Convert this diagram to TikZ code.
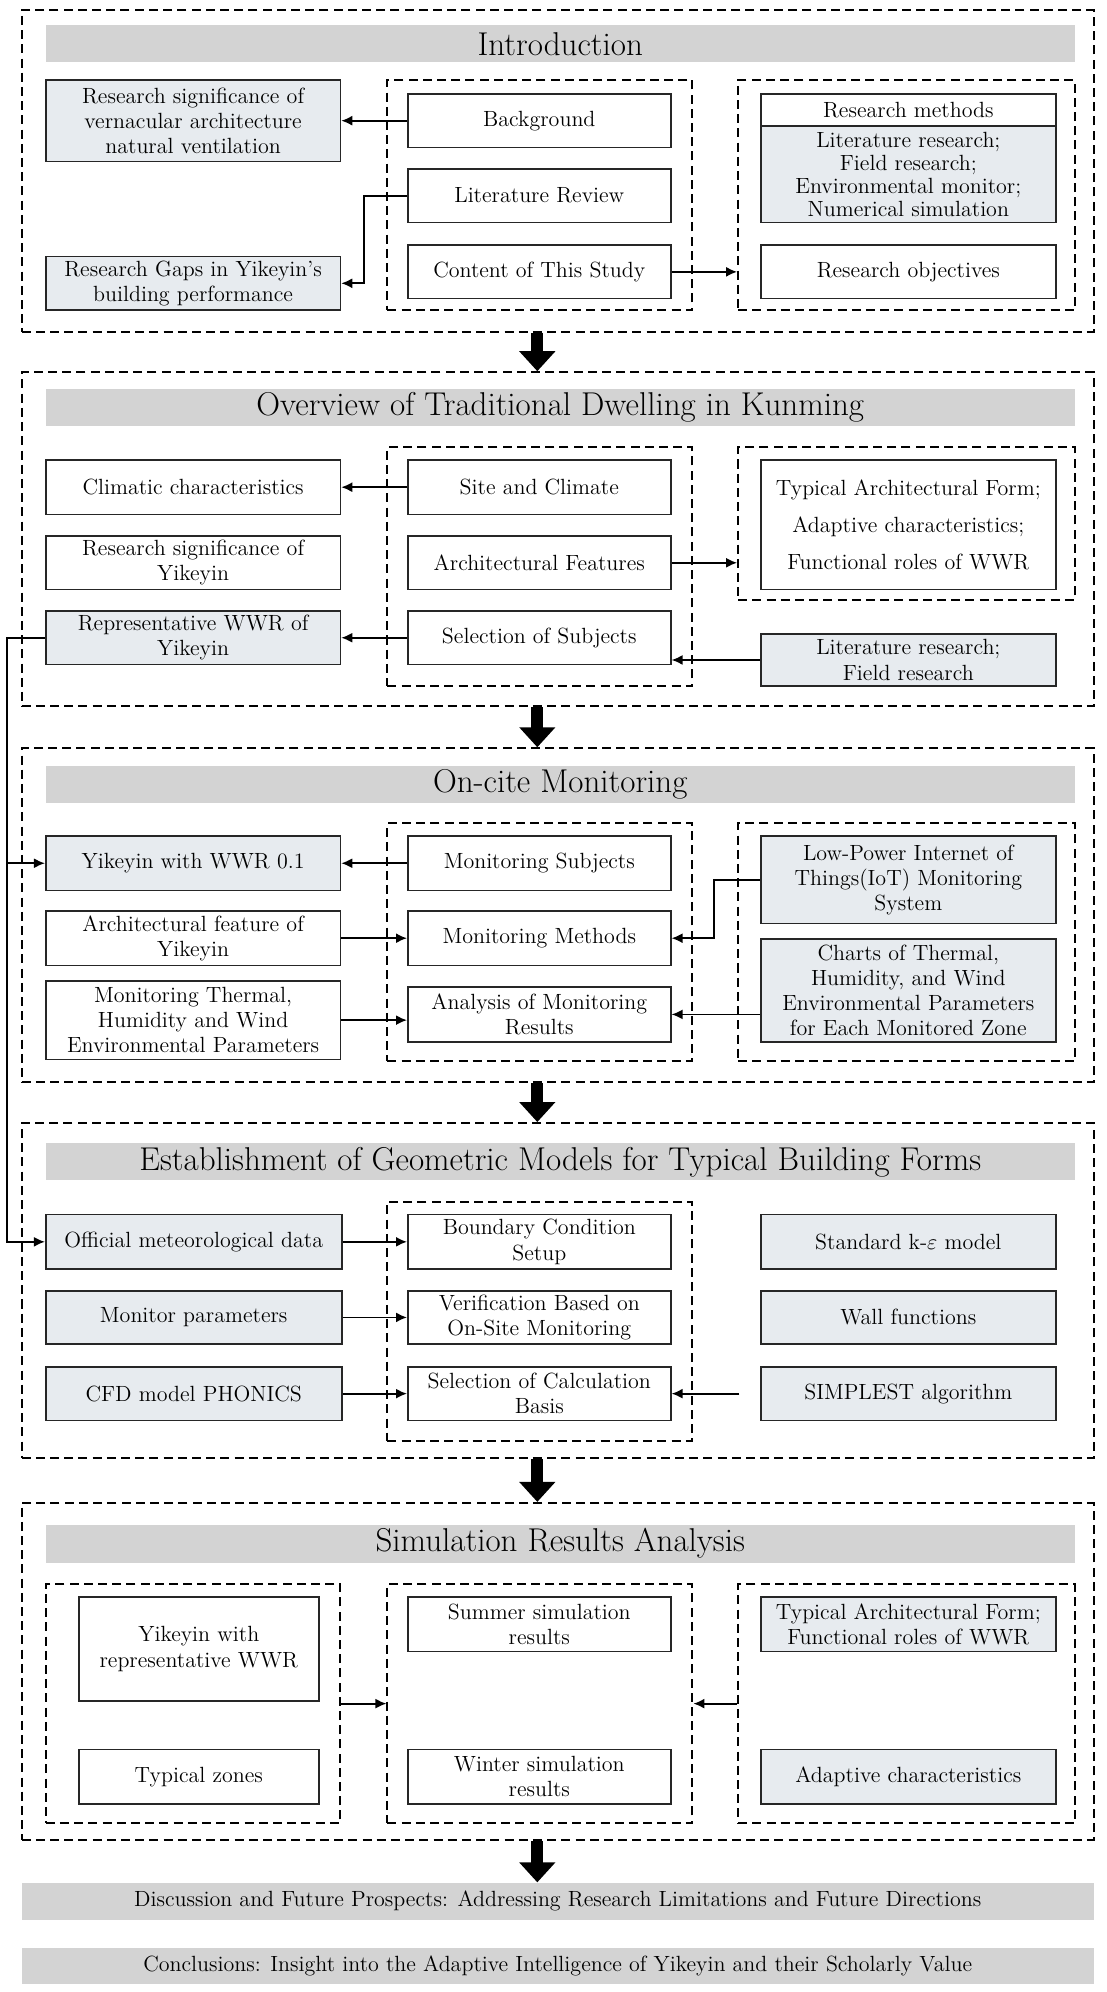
\documentclass[tikz,border=0pt]{standalone}
\usetikzlibrary{arrows.meta,calc}
\definecolor{barg}{RGB}{211,211,211}
\definecolor{boxg}{RGB}{231,235,239}
\tikzset{
  x=0.635pt, y=-0.635pt,
  every node/.style={font=\fontsize{11}{12.6}\selectfont, align=center, inner sep=0pt},
  bx/.style={draw=black!85, line width=0.8pt, fill=white},
  gbx/.style={draw=black!85, line width=0.8pt, fill=boxg},
  tight/.style={font=\fontsize{11}{11.5}\selectfont},
  dbox/.style={draw, line width=1pt, dash pattern=on 4.5pt off 2.6pt},
  bar/.style={fill=barg, font=\fontsize{16.5}{19}\selectfont},
  sbar/.style={fill=barg},
  conn/.style={line width=0.9pt, -{Latex[length=5.5pt,width=5pt]}},
  big/.style={line width=6pt, -{Triangle[length=10pt,width=17.5pt]}},
}
% #1 style, #2 name, (#3,#4) top-left, (#5,#6) bottom-right, #7 text
\newcommand\mybox[7]{%
  \node[#1, minimum width={(#5-#3)*0.635pt}, minimum height={(#6-#4)*0.635pt}]
    (#2) at ({(#3+#5)/2},{(#4+#6)/2}) {#7};}
\begin{document}
\begin{tikzpicture}
\useasboundingbox (0,0) rectangle (871,1568);
\fill[white] (0,0) rectangle (871,1568);

% ---------------- Section 1
\mybox{dbox}{s1}{17}{8}{861}{261}{}
\mybox{bar}{t1}{36}{20}{846}{49}{Introduction}
\mybox{gbx}{rs1}{36}{63}{268}{127}{Research significance of\\vernacular architecture\\natural ventilation}
\mybox{gbx}{rg}{36}{202}{268}{244}{Research Gaps in Yikeyin's\\building performance}
\mybox{dbox}{m1}{305}{63}{545}{244}{}
\mybox{bx}{bg}{321}{74}{528}{116}{Background}
\mybox{bx}{lr}{321}{133}{528}{175}{Literature Review}
\mybox{bx}{ct}{321}{193}{528}{235}{Content of This Study}
\mybox{dbox}{r1}{581}{63}{846}{244}{}
\mybox{bx}{rmh}{599}{74}{831}{99}{Research methods}
\mybox{gbx,tight}{rmb}{599}{99}{831}{175}{Literature research;\\Field research;\\Environmental monitor;\\Numerical simulation}
\mybox{bx}{ro}{599}{193}{831}{235}{Research objectives}

\draw[conn] (bg.west) -- (bg.west -| rs1.east);
\draw[conn] (lr.west) -- ([xshift=11.5pt]rg.east |- lr.west) -- ([xshift=11.5pt]rg.east) -- (rg.east);
\draw[conn] (ct.east) -- (ct.east -| r1.west);

% ---------------- Section 2
\mybox{dbox}{s2}{17}{293}{861}{556}{}
\mybox{bar}{t2}{36}{306}{846}{335}{Overview of Traditional Dwelling in Kunming}
\mybox{bx}{cl}{36}{362}{268}{405}{Climatic characteristics}
\mybox{bx}{ry}{36}{422}{268}{464}{Research significance of\\Yikeyin}
\mybox{gbx}{rep}{36}{481}{268}{523}{Representative WWR of\\Yikeyin}
\mybox{dbox}{m2}{305}{352}{545}{540}{}
\mybox{bx}{sc1}{321}{362}{528}{405}{Site and Climate}
\mybox{bx}{af1}{321}{422}{528}{464}{Architectural Features}
\mybox{bx}{ss}{321}{481}{528}{523}{Selection of Subjects}
\mybox{dbox}{r2}{581}{352}{846}{472}{}
\mybox{bx}{tf}{599}{362}{831}{464}{Typical Architectural Form;\\[6pt]Adaptive characteristics;\\[6pt]Functional roles of WWR}
\mybox{gbx}{lf}{599}{499}{831}{540}{Literature research;\\Field research}

\draw[conn] (sc1.west) -- (sc1.west -| cl.east);
\draw[conn] (af1.east) -- (af1.east -| r2.west);
\draw[conn] (lf.west) -- (lf.west -| ss.east);
\draw[conn] (ss.west) -- (ss.west -| rep.east);

% ---------------- Section 3
\mybox{dbox}{s3}{17}{589}{861}{852}{}
\mybox{bar}{t3}{36}{603}{846}{632}{On-cite Monitoring}
\mybox{gbx}{yk}{36}{658}{268}{701}{Yikeyin with WWR 0.1}
\mybox{bx}{afy}{36}{717}{268}{760}{Architectural feature of\\Yikeyin}
\mybox{bx}{mt}{36}{772}{268}{834}{Monitoring Thermal,\\Humidity and Wind\\Environmental Parameters}
\mybox{dbox}{m3}{305}{648}{545}{835}{}
\mybox{bx}{ms}{321}{658}{528}{701}{Monitoring Subjects}
\mybox{bx}{mm}{321}{717}{528}{760}{Monitoring Methods}
\mybox{bx}{an}{321}{777}{528}{820}{Analysis of Monitoring\\Results}
\mybox{dbox}{r3}{581}{648}{846}{835}{}
\mybox{gbx}{iot}{599}{658}{831}{727}{Low-Power Internet of\\Things(IoT) Monitoring\\System}
\mybox{gbx}{ch}{599}{739}{831}{820}{Charts of Thermal,\\Humidity, and Wind\\Environmental Parameters\\for Each Monitored Zone}

\draw[conn] (ms.west) -- (ms.west -| yk.east);
\draw[conn] (afy.east) -- (afy.east -| mm.west);
\draw[conn] (mt.east) -- (mt.east -| an.west);
\draw[conn] (iot.west) -- ([xshift=-22.9pt]iot.west) |- (mm.east);
\draw[conn] (ch.west |- an.east) -- (an.east);

% ---------------- Section 4
\mybox{dbox}{s4}{17}{884}{861}{1148}{}
\mybox{bar}{t4}{36}{900}{846}{929}{Establishment of Geometric Models for Typical Building Forms}
\mybox{gbx}{of}{36}{956}{269}{999}{Official meteorological data}
\mybox{gbx}{mp}{36}{1016}{269}{1058}{Monitor parameters}
\mybox{gbx}{cfd}{36}{1076}{269}{1118}{CFD model PHONICS}
\mybox{dbox}{m4}{305}{946}{545}{1134}{}
\mybox{bx}{bc}{321}{956}{528}{999}{Boundary Condition\\Setup}
\mybox{bx}{vf}{321}{1016}{528}{1058}{Verification Based on\\On-Site Monitoring}
\mybox{bx}{sl}{321}{1076}{528}{1118}{Selection of Calculation\\Basis}
\mybox{gbx}{ke}{599}{956}{831}{999}{Standard k-$\varepsilon$ model}
\mybox{gbx}{wf}{599}{1016}{831}{1058}{Wall functions}
\mybox{gbx}{sp}{599}{1076}{831}{1118}{SIMPLEST algorithm}
\coordinate (spf) at (582,1097);

\draw[conn] (of.east) -- (of.east -| bc.west);
\draw[conn] (mp.east) -- (mp.east -| vf.west);
\draw[conn] (cfd.east) -- (cfd.east -| sl.west);
\draw[conn] (spf) -- (spf -| sl.east);

% long left connector
\coordinate (lx) at (5.8,0);
\draw[conn] (rep.west) -- (rep.west -| lx) |- (yk.west);
\draw[conn] (yk.west -| lx) |- (of.west);

% ---------------- Section 5
\mybox{dbox}{s5}{17}{1183}{861}{1448}{}
\mybox{bar}{t5}{36}{1200}{846}{1230}{Simulation Results Analysis}
\mybox{dbox}{l5}{36}{1247}{268}{1435}{}
\mybox{bx}{yr}{62}{1257}{251}{1339}{Yikeyin with\\representative WWR}
\mybox{bx}{tz}{62}{1377}{251}{1420}{Typical zones}
\mybox{dbox}{m5}{305}{1247}{545}{1435}{}
\mybox{bx}{su}{321}{1257}{528}{1300}{Summer simulation\\results}
\mybox{bx}{wi}{321}{1377}{528}{1420}{Winter simulation\\results}
\mybox{dbox}{r5}{581}{1247}{846}{1435}{}
\mybox{gbx}{ta}{599}{1257}{831}{1300}{Typical Architectural Form;\\Functional roles of WWR}
\mybox{gbx}{ad}{599}{1377}{831}{1420}{Adaptive characteristics}

\draw[conn] (l5.east) -- (m5.west);
\draw[conn] (r5.west) -- (m5.east);

% ---------------- bottom bars
\mybox{sbar}{disc}{17}{1482}{861}{1511}{Discussion and Future Prospects: Addressing Research Limitations and Future Directions}
\mybox{sbar}{conc}{17}{1533}{861}{1562}{Conclusions: Insight into the Adaptive Intelligence of Yikeyin and their Scholarly Value}

% ---------------- big arrows
\draw[big] ([xshift=-10.2pt]s1.south) -- ([xshift=-10.2pt]s2.north);
\draw[big] ([xshift=-10.2pt]s2.south) -- ([xshift=-10.2pt]s3.north);
\draw[big] ([xshift=-10.2pt]s3.south) -- ([xshift=-10.2pt]s4.north);
\draw[big] ([xshift=-10.2pt]s4.south) -- ([xshift=-10.2pt]s5.north);
\draw[big] ([xshift=-10.2pt]s5.south) -- ([xshift=-10.2pt]disc.north);
\end{tikzpicture}
\end{document}
